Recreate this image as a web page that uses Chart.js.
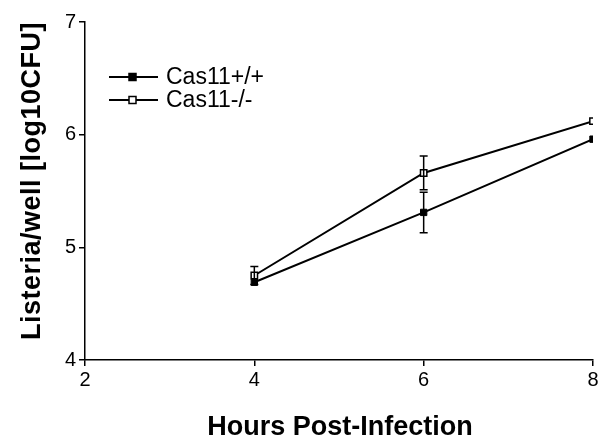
<!DOCTYPE html>
<html>
<head>
<meta charset="utf-8">
<script src="https://cdn.jsdelivr.net/npm/chart.js@4"></script>
<style>
  html, body { margin: 0; padding: 0; background: #fff; }
  #wrap { width: 605px; height: 440px; }
</style>
</head>
<body>
<div id="wrap"><canvas id="infChart" width="605" height="440"></canvas></div>
<script>
// values
const hours = [4, 6, 8];
const wildType = [4.69, 5.31, 5.96];
const wildTypeErr = [0.04, 0.18, 0.02];
const knockout = [4.75, 5.66, 6.12];
const knockoutErr = [0.08, 0.15, 0.02];
const xTicks = [2, 4, 6, 8];
const yTicks = [4, 5, 6, 7];
const xTitle = 'Hours Post-Infection';
const yTitle = 'Listeria/well [log10CFU]';

const FONT = '"Liberation Sans", Arial, sans-serif';
const toPoints = (xs, ys) => xs.map((x, i) => ({ x: x, y: ys[i] }));

// vertical error bars with caps
const errorBars = {
    id: 'errorBars',
    afterDatasetsDraw(chart) {
        const c = chart.ctx;
        const xs = chart.scales.x, ys = chart.scales.y;
        c.save();
        c.strokeStyle = '#000';
        c.lineWidth = 1.5;
        chart.data.datasets.forEach(ds => {
            ds.data.forEach((p, i) => {
                const e = ds.errors[i];
                if (e < 0.05) return;
                const px = xs.getPixelForValue(p.x);
                const top = ys.getPixelForValue(p.y + e);
                const bot = ys.getPixelForValue(p.y - e);
                c.beginPath();
                c.moveTo(px, top); c.lineTo(px, bot);
                c.moveTo(px - 4, top); c.lineTo(px + 4, top);
                c.moveTo(px - 4, bot); c.lineTo(px + 4, bot);
                c.stroke();
            });
        });
        c.restore();
    }
};

// legend inside the plot + axis titles placed like the original
const extras = {
    id: 'extras',
    afterDraw(chart) {
        const c = chart.ctx;
        c.save();
        chart.data.datasets.forEach((ds, i) => {
            const y = 77 + i * 23;
            c.strokeStyle = '#000';
            c.lineWidth = 2;
            c.beginPath();
            c.moveTo(109, y); c.lineTo(158, y);
            c.stroke();
            c.fillStyle = ds.pointBackgroundColor;
            c.lineWidth = 1.5;
            c.fillRect(129, y - 3.5, 7, 7);
            c.strokeRect(129, y - 3.5, 7, 7);
            c.fillStyle = '#000';
            c.font = '23px ' + FONT;
            c.textBaseline = 'middle';
            c.fillText(ds.label, 166, y + 1);
        });

        c.fillStyle = '#000';
        c.textAlign = 'center';
        c.textBaseline = 'alphabetic';
        c.font = 'bold 27px ' + FONT;
        c.fillText(xTitle, 340, 435);

        c.translate(40, 181);
        c.rotate(-Math.PI / 2);
        c.letterSpacing = '0.5px';
        c.font = 'bold 27px ' + FONT;
        c.fillText(yTitle, 0, 0);
        c.restore();
    }
};

new Chart(document.getElementById('infChart').getContext('2d'), {
    type: 'line',
    data: {
        datasets: [
            {
                label: 'Cas11+/+',
                data: toPoints(hours, wildType),
                errors: wildTypeErr,
                borderColor: '#000',
                borderWidth: 2,
                pointStyle: 'rect',
                pointRadius: 4.5,
                pointBackgroundColor: '#000',
                pointBorderColor: '#000',
                pointBorderWidth: 1,
                fill: false
            },
            {
                label: 'Cas11-/-',
                data: toPoints(hours, knockout),
                errors: knockoutErr,
                borderColor: '#000',
                borderWidth: 2,
                pointStyle: 'rect',
                pointRadius: 4.5,
                pointBackgroundColor: '#fff',
                pointBorderColor: '#000',
                pointBorderWidth: 1.5,
                fill: false
            }
        ]
    },
    options: {
        responsive: false,
        animation: false,
        layout: { padding: { top: 22, right: 12, left: 0, bottom: 0 } },
        plugins: { legend: { display: false }, tooltip: { enabled: false } },
        scales: {
            x: {
                type: 'linear',
                min: 2, max: 8,
                afterBuildTicks: s => { s.ticks = xTicks.map(v => ({ value: v })); },
                afterFit: s => { s.height = 80; },
                border: { display: true, color: '#000', width: 1.5 },
                grid: { display: true, drawOnChartArea: false, drawTicks: true, tickLength: 6, color: '#000', lineWidth: 1.5 },
                ticks: { color: '#000', padding: 2, font: { family: FONT, size: 20 } }
            },
            y: {
                type: 'linear',
                min: 4, max: 7,
                afterBuildTicks: s => { s.ticks = yTicks.map(v => ({ value: v })); },
                afterFit: s => { s.width = 85; },
                border: { display: true, color: '#000', width: 1.5 },
                grid: { display: true, drawOnChartArea: false, drawTicks: true, tickLength: 6, color: '#000', lineWidth: 1.5 },
                ticks: { color: '#000', padding: 3, font: { family: FONT, size: 20 } }
            }
        }
    },
    plugins: [errorBars, extras]
});
</script>
</body>
</html>
